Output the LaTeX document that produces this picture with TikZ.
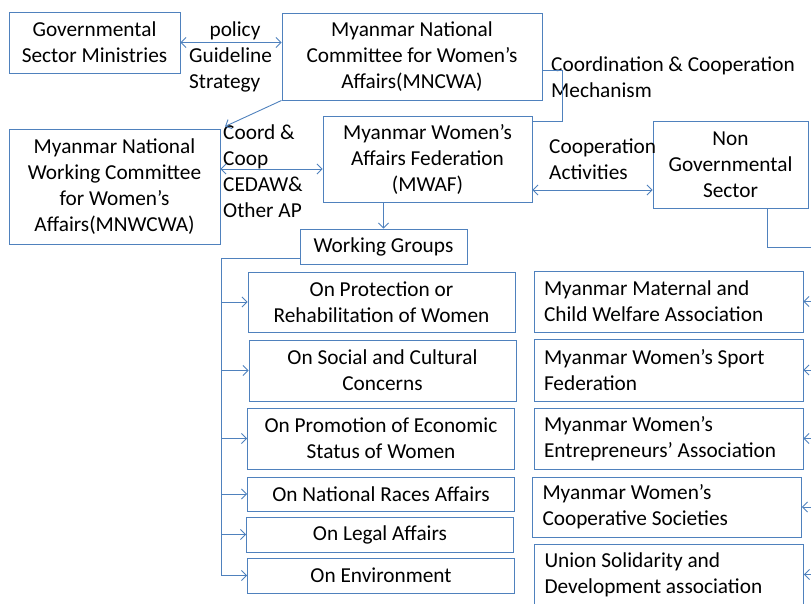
\documentclass[tikz,border=0pt]{standalone}
\usepackage{fontspec}
\setmainfont{Carlito}
\usetikzlibrary{arrows.meta}
\definecolor{frame}{RGB}{79,129,189}

\begin{document}
\begin{tikzpicture}[x=1pt, y=-1pt, >={Straight Barb[length=5pt,width=10pt]},
	every node/.style={font=\fontsize{21.3}{26}\selectfont},
	box/.style={draw=frame, line width=0.9pt, inner sep=2pt, align=center},
	lbox/.style={box, align=flush left, text width=249pt, inner xsep=10pt},
	gbox/.style={box, minimum width=267pt},
	link/.style={frame, line width=0.9pt},
	txt/.style={align=left, inner sep=0pt}]
	\useasboundingbox (0,0) rectangle (811,603);

	% top level
	\node[box, minimum width=171pt, minimum height=61pt] (gov) at (94.5,42.5) {Governmental\\Sector Ministries};
	\node[box, minimum width=260pt, minimum height=87pt] (mncwa) at (412,56.5) {Myanmar National\\Committee for Women’s\\Affairs(MNCWA)};
	\node[box, minimum width=211pt, minimum height=115pt] (mnwcwa) at (114.5,186.5) {Myanmar National\\Working Committee\\for Women’s\\Affairs(MNWCWA)};
	\node[box, minimum width=209pt, minimum height=86pt] (mwaf) at (427.5,159) {Myanmar Women’s\\Affairs Federation\\(MWAF)};
	\node[box, minimum width=155pt, minimum height=87pt] (ngo) at (730.5,164.5) {Non\\Governmental\\Sector};
	\node[box, minimum width=167pt, minimum height=35pt] (wg) at (383.5,246.5) {Working Groups};

	% working groups
	\node[gbox, minimum height=60pt] (g1) at (381.5,302) {On Protection or\\Rehabilitation of Women};
	\node[gbox, minimum height=61pt] (g2) at (382.5,370.5) {On Social and Cultural\\Concerns};
	\node[gbox, minimum height=61pt] (g3) at (381,438.5) {On Promotion of Economic\\Status of Women};
	\node[gbox, minimum height=34pt] (g4) at (381,494) {On National Races Affairs};
	\node[gbox, minimum height=35pt] (g5) at (380,534.5) {On Legal Affairs};
	\node[gbox, minimum height=35pt] (g6) at (381,575.5) {On Environment};

	% non governmental organisations
	\node[lbox, minimum height=61pt] (r1) at (668.5,301.5) {Myanmar Maternal and\\Child Welfare Association};
	\node[lbox, minimum height=62pt] (r2) at (668.5,370) {Myanmar Women’s Sport\\Federation};
	\node[lbox, minimum height=61pt] (r3) at (668.5,438.5) {Myanmar Women’s\\Entrepreneurs’ Association};
	\node[lbox, minimum height=60pt] (r4) at (667,507) {Myanmar Women’s\\Cooperative Societies};
	\node[lbox, minimum height=61pt] (r5) at (669,574.5) {Union Solidarity and\\Development association};

	% labels
	\node (policy) at (235,31) {policy};
	\node[txt, anchor=west] (guide) at (189,70) {Guideline\\Strategy};
	\node[txt, anchor=west] (coord) at (223,171.5) {Coord \&\\Coop\\CEDAW\&\\Other AP};
	\node[txt, anchor=west] (mech) at (551,77) {Coordination \& Cooperation\\Mechanism};
	\node[txt, anchor=west] (coop) at (549,159.5) {Cooperation\\Activities};

	% connectors
	\draw[link, <->] (gov.east) -- (gov.east -| mncwa.west);
	\draw[link, ->, shorten >=5pt] (mncwa.south west) -- (mnwcwa.north east);
	\draw[link, <->] (mnwcwa.east |- 0,169) -- (mwaf.west |- 0,169);
	\draw[link, <->] (mwaf.east |- 0,190) -- (ngo.west |- 0,190);
	\draw[link, ->] (wg.north |- mwaf.south) -- (wg.north);

	\coordinate (cc) at (562,121);
	\draw[link] (mncwa.east |- 0,70) -| (cc) -- (cc -| mwaf.east);

	\coordinate (lbar) at (221,575);
	\draw[link] (wg.west |- 0,258) -| (lbar);
	\foreach \g in {g1,g2,g3,g4,g5,g6}
		\draw[link, ->] (lbar |- \g.west) -- (\g.west);

	\coordinate (rbar) at (818,247);
	\draw[link] ([xshift=36.5pt]ngo.south) |- (rbar) -- (rbar |- r5.east);
	\foreach \r in {r1,r2,r3,r4,r5}
		\draw[link, ->] (rbar |- \r.east) -- (\r.east);
\end{tikzpicture}
\end{document}
